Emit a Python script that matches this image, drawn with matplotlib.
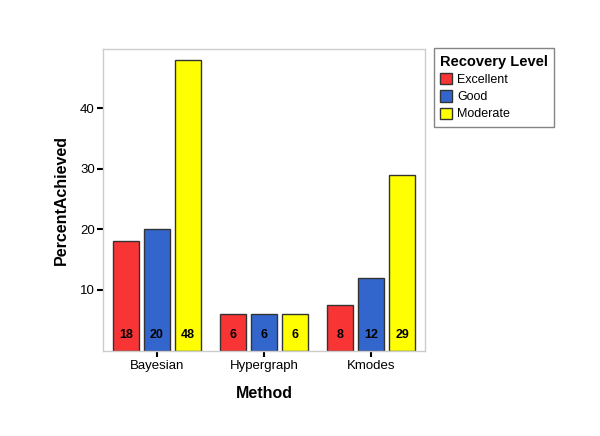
import matplotlib.pyplot as plt
import numpy as np

plt.rcParams['font.family'] = ['Liberation Sans', 'DejaVu Sans']

methods = ['Bayesian', 'Hypergraph', 'Kmodes']
levels = ['Excellent', 'Good', 'Moderate']
excellent = [18, 6, 7.5]
good = [20, 6, 12]
moderate = [48, 6, 29]
labels_txt = [['18', '6', '8'], ['20', '6', '12'], ['48', '6', '29']]
colors = ['#F83434', '#3366CC', '#FFFF00']

fig = plt.figure(figsize=(6, 4.36), dpi=100)
ax = fig.add_axes([0.172, 0.196, 0.536, 0.692])

x = np.arange(len(methods))
pitch = 0.29
width = 0.245
for i, (vals, lev) in enumerate(zip([excellent, good, moderate], levels)):
    pos = x + (i - 1) * pitch
    ax.bar(pos, vals, width, color=colors[i], edgecolor='#333333', linewidth=1.0, label=lev)
    for p, t in zip(pos, labels_txt[i]):
        ax.text(p, 2.6, t, ha='center', va='center', fontsize=9, fontweight='bold', color='black')

ax.set_xlim(-0.5, 2.5)
ax.set_ylim(0, 49.8)
ax.set_yticks([10, 20, 30, 40])
ax.set_xticks(x)
ax.set_xticklabels(methods, fontsize=9.5)
ax.tick_params(axis='y', labelsize=9.5, length=4, width=1.5, color='black', pad=2)
ax.tick_params(axis='x', length=4, width=1.5, color='black', pad=3)
for s in ax.spines.values():
    s.set_color('#CCCCCC')
    s.set_linewidth(1)

ax.set_xlabel('Method', fontsize=11.5, fontweight='bold', labelpad=10)
ax.set_ylabel('PercentAchieved', fontsize=11.5, fontweight='bold', labelpad=8)

leg = ax.legend(title='Recovery Level', loc='upper left', bbox_to_anchor=(1.008, 1.022),
                fontsize=9, title_fontproperties={'weight': 'bold', 'size': 10.5},
                handlelength=1.0, handleheight=1.0, handletextpad=0.4,
                labelspacing=0.35, borderpad=0.5, frameon=True, fancybox=False,
                alignment='left')
leg.get_frame().set_edgecolor('#666666')
leg.get_frame().set_linewidth(1)

fig.savefig('out.png', dpi=100)
